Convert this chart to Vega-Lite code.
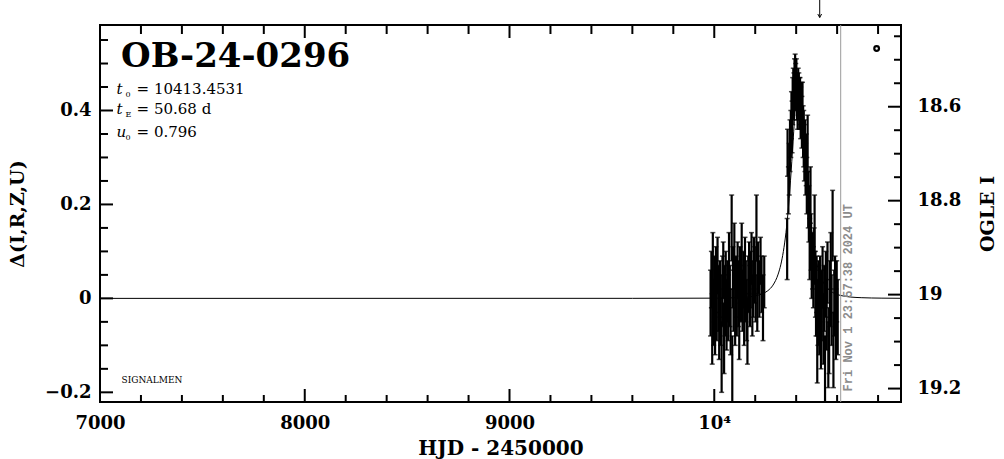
{
  "$schema": "https://vega.github.io/schema/vega-lite/v6.json",
  "width": 801,
  "height": 377,
  "autosize": {"type": "none"},
  "padding": {"left": 100, "top": 25, "right": 103, "bottom": 57},
  "background": "white",
  "config": {
    "view": {"stroke": "black", "strokeWidth": 2},
    "axis": {
      "grid": false,
      "domain": false,
      "ticks": false,
      "zindex": 1,
      "labelFlush": false,
      "labelFont": "DejaVu Serif",
      "labelFontWeight": "bold",
      "labelFontSize": 18,
      "labelColor": "black",
      "titleFont": "DejaVu Serif",
      "titleFontWeight": "bold",
      "titleFontSize": 19,
      "titleColor": "black"
    }
  },
  "datasets": {
    "obs": [
      {"t":9982,"lo":-0.08,"hi":0.06},{"t":9986,"lo":-0.02,"hi":0.10},{"t":9990,"lo":-0.14,"hi":0.01},{"t":9993,"lo":0.00,"hi":0.14},
      {"t":9997,"lo":-0.10,"hi":0.04},{"t":10000,"lo":-0.05,"hi":0.09},{"t":10004,"lo":-0.12,"hi":0.03},{"t":10008,"lo":-0.03,"hi":0.11},
      {"t":10012,"lo":-0.09,"hi":0.06},{"t":10016,"lo":0.01,"hi":0.13},{"t":10020,"lo":-0.07,"hi":0.07},{"t":10024,"lo":-0.13,"hi":0.02},
      {"t":10028,"lo":-0.04,"hi":0.08},{"t":10032,"lo":-0.10,"hi":0.05},{"t":10036,"lo":-0.20,"hi":-0.05},{"t":10040,"lo":-0.06,"hi":0.09},
      {"t":10044,"lo":0.00,"hi":0.12},{"t":10048,"lo":-0.16,"hi":-0.01},{"t":10052,"lo":-0.08,"hi":0.07},{"t":10056,"lo":-0.03,"hi":0.10},
      {"t":10060,"lo":-0.11,"hi":0.04},{"t":10064,"lo":-0.05,"hi":0.08},{"t":10068,"lo":-0.09,"hi":0.05},{"t":10072,"lo":0.02,"hi":0.14},
      {"t":10076,"lo":-0.06,"hi":0.07},{"t":10080,"lo":-0.12,"hi":0.02},{"t":10085,"lo":0.08,"hi":0.22},{"t":10088,"lo":-0.25,"hi":-0.08},
      {"t":10091,"lo":-0.02,"hi":0.11},{"t":10094,"lo":-0.07,"hi":0.06},{"t":10098,"lo":0.02,"hi":0.16},{"t":10102,"lo":-0.10,"hi":0.04},
      {"t":10106,"lo":-0.04,"hi":0.09},{"t":10110,"lo":-0.08,"hi":0.05},{"t":10114,"lo":0.00,"hi":0.12},{"t":10118,"lo":-0.06,"hi":0.08},
      {"t":10122,"lo":-0.13,"hi":0.01},{"t":10126,"lo":-0.01,"hi":0.11},{"t":10130,"lo":-0.05,"hi":0.07},{"t":10134,"lo":0.03,"hi":0.16},
      {"t":10138,"lo":-0.07,"hi":0.06},{"t":10142,"lo":-0.02,"hi":0.10},{"t":10146,"lo":-0.10,"hi":0.03},{"t":10150,"lo":0.00,"hi":0.13},
      {"t":10154,"lo":-0.05,"hi":0.08},{"t":10158,"lo":-0.09,"hi":0.04},{"t":10162,"lo":-0.14,"hi":0.00},{"t":10166,"lo":-0.03,"hi":0.09},
      {"t":10170,"lo":0.01,"hi":0.12},{"t":10174,"lo":-0.06,"hi":0.07},{"t":10178,"lo":-0.02,"hi":0.10},{"t":10182,"lo":0.03,"hi":0.14},
      {"t":10186,"lo":-0.08,"hi":0.05},{"t":10190,"lo":-0.04,"hi":0.08},{"t":10194,"lo":0.02,"hi":0.13},{"t":10198,"lo":-0.01,"hi":0.11},
      {"t":10202,"lo":-0.05,"hi":0.08},{"t":10206,"lo":0.08,"hi":0.22},{"t":10210,"lo":-0.07,"hi":0.05},{"t":10214,"lo":0.01,"hi":0.12},
      {"t":10220,"lo":-0.04,"hi":0.08},{"t":10226,"lo":0.03,"hi":0.13},{"t":10231,"lo":-0.03,"hi":0.09},{"t":10238,"lo":-0.09,"hi":0.05},
      {"t":10244,"lo":-0.02,"hi":0.09},
      {"t":10356,"lo":0.04,"hi":0.17},{"t":10358,"lo":0.26,"hi":0.36},{"t":10362,"lo":0.18,"hi":0.28},{"t":10366,"lo":0.22,"hi":0.33},
      {"t":10370,"lo":0.27,"hi":0.38},{"t":10374,"lo":0.30,"hi":0.40},{"t":10377,"lo":0.34,"hi":0.44},{"t":10380,"lo":0.31,"hi":0.42},
      {"t":10383,"lo":0.37,"hi":0.47},{"t":10386,"lo":0.40,"hi":0.49},{"t":10389,"lo":0.38,"hi":0.48},{"t":10392,"lo":0.42,"hi":0.51},
      {"t":10395,"lo":0.43,"hi":0.52},{"t":10398,"lo":0.40,"hi":0.50},{"t":10401,"lo":0.41,"hi":0.51},{"t":10404,"lo":0.38,"hi":0.48},
      {"t":10407,"lo":0.36,"hi":0.46},{"t":10410,"lo":0.39,"hi":0.49},{"t":10413,"lo":0.38,"hi":0.48},{"t":10416,"lo":0.36,"hi":0.47},
      {"t":10419,"lo":0.37,"hi":0.47},{"t":10422,"lo":0.34,"hi":0.45},{"t":10425,"lo":0.36,"hi":0.46},{"t":10428,"lo":0.32,"hi":0.43},
      {"t":10431,"lo":0.35,"hi":0.46},{"t":10434,"lo":0.30,"hi":0.41},{"t":10437,"lo":0.28,"hi":0.40},{"t":10440,"lo":0.25,"hi":0.37},
      {"t":10443,"lo":0.27,"hi":0.38},{"t":10446,"lo":0.22,"hi":0.33},{"t":10449,"lo":0.24,"hi":0.35},{"t":10452,"lo":0.18,"hi":0.30},
      {"t":10456,"lo":0.27,"hi":0.39},{"t":10459,"lo":0.15,"hi":0.27},{"t":10462,"lo":0.12,"hi":0.24},{"t":10466,"lo":0.04,"hi":0.17},
      {"t":10470,"lo":0.16,"hi":0.28},{"t":10473,"lo":0.06,"hi":0.18},{"t":10476,"lo":0.00,"hi":0.13},{"t":10480,"lo":0.02,"hi":0.14},
      {"t":10484,"lo":-0.02,"hi":0.11},{"t":10488,"lo":0.03,"hi":0.15},{"t":10490,"lo":0.10,"hi":0.22},{"t":10494,"lo":-0.04,"hi":0.10},
      {"t":10497,"lo":-0.08,"hi":0.06},{"t":10500,"lo":-0.03,"hi":0.09},{"t":10503,"lo":-0.18,"hi":-0.08},{"t":10506,"lo":-0.10,"hi":0.04},
      {"t":10509,"lo":-0.06,"hi":0.08},{"t":10513,"lo":-0.12,"hi":0.02},{"t":10517,"lo":-0.05,"hi":0.09},{"t":10521,"lo":-0.15,"hi":-0.02},
      {"t":10525,"lo":-0.09,"hi":0.06},{"t":10529,"lo":-0.02,"hi":0.11},{"t":10533,"lo":-0.14,"hi":0.01},{"t":10537,"lo":-0.07,"hi":0.07},
      {"t":10541,"lo":-0.22,"hi":-0.08},{"t":10545,"lo":-0.04,"hi":0.10},{"t":10549,"lo":-0.11,"hi":0.04},{"t":10553,"lo":-0.01,"hi":0.12},
      {"t":10557,"lo":-0.19,"hi":-0.05},{"t":10561,"lo":-0.16,"hi":-0.02},{"t":10565,"lo":-0.06,"hi":0.08},{"t":10569,"lo":0.02,"hi":0.14},
      {"t":10573,"lo":-0.10,"hi":0.05},{"t":10578,"lo":0.08,"hi":0.23},{"t":10582,"lo":-0.19,"hi":-0.03},{"t":10586,"lo":-0.08,"hi":0.06},
      {"t":10590,"lo":-0.03,"hi":0.09},{"t":10594,"lo":-0.13,"hi":0.02},{"t":10598,"lo":-0.05,"hi":0.08},{"t":10603,"lo":-0.12,"hi":0.04}
    ],
    "model": [
      {"t":7000,"d":0},{"t":9600,"d":0.0001},{"t":10008,"d":0.0005},{"t":10109.4,"d":0.0015},{"t":10160.1,"d":0.0028},
      {"t":10210.7,"d":0.0063},{"t":10236.1,"d":0.0099},{"t":10261.4,"d":0.0163},{"t":10286.8,"d":0.0282},{"t":10312.1,"d":0.0517},
      {"t":10324.8,"d":0.0714},{"t":10337.4,"d":0.0996},{"t":10350.1,"d":0.1399},{"t":10362.8,"d":0.196},{"t":10375.4,"d":0.270},
      {"t":10388.1,"d":0.356},{"t":10400.8,"d":0.434},{"t":10407.1,"d":0.458},{"t":10413.5,"d":0.467},{"t":10419.8,"d":0.458},
      {"t":10426.1,"d":0.434},{"t":10438.8,"d":0.356},{"t":10451.5,"d":0.270},{"t":10464.1,"d":0.196},{"t":10476.8,"d":0.1399},
      {"t":10489.5,"d":0.0996},{"t":10502.1,"d":0.0714},{"t":10514.8,"d":0.0517},{"t":10540.2,"d":0.0282},{"t":10565.5,"d":0.0163},
      {"t":10590.8,"d":0.0099},{"t":10616.2,"d":0.0063},{"t":10666.9,"d":0.0028},{"t":10717.5,"d":0.0015},{"t":10818.9,"d":0.0005},
      {"t":10912,"d":0.0002}
    ],
    "xmaj": [{"v":7000},{"v":8000},{"v":9000},{"v":10000}],
    "xmin": [{"v":7200},{"v":7400},{"v":7600},{"v":7800},{"v":8200},{"v":8400},{"v":8600},{"v":8800},{"v":9200},{"v":9400},{"v":9600},{"v":9800},{"v":10200},{"v":10400},{"v":10600},{"v":10800}],
    "lmaj": [{"v":-0.2},{"v":0},{"v":0.2},{"v":0.4}],
    "lmin": [{"v":-0.15},{"v":-0.1},{"v":-0.05},{"v":0.05},{"v":0.1},{"v":0.15},{"v":0.25},{"v":0.3},{"v":0.35},{"v":0.45},{"v":0.5},{"v":0.55}],
    "rmaj": [{"v":-0.192},{"v":0.008},{"v":0.208},{"v":0.408}],
    "rmin": [{"v":-0.142},{"v":-0.092},{"v":-0.042},{"v":0.058},{"v":0.108},{"v":0.158},{"v":0.258},{"v":0.308},{"v":0.358},{"v":0.458},{"v":0.508},{"v":0.558}],
    "now": [{"t":10617.5,"d":-0.198,"label":"Fri Nov  1 23:57:38 2024 UT"}],
    "title": [{"label":"OB-24-0296","t":7103,"d":0.493}],
    "params": [
      {"sym":"t","sub":"0","rest":"= 10413.4531","t":7081,"d":0.436},
      {"sym":"t","sub":"E","rest":"= 50.68 d","t":7081,"d":0.3915},
      {"sym":"u","sub":"0","rest":"= 0.796","t":7081,"d":0.3426}
    ],
    "sig": [{"label":"SIGNALMEN","t":7105,"d":-0.181}],
    "arrow": [{"t":10515,"top":0.636,"tip":0.598}],
    "legend": [{"t":10793,"d":0.532}]
  },
  "layer": [
    {
      "data": {"name": "obs"},
      "mark": {"type": "rule", "color": "black", "strokeWidth": 2.2, "clip": true},
      "encoding": {
        "x": {"field": "t", "type": "quantitative", "scale": {"domain": [7000, 10912], "nice": false, "zero": false}, "axis": null},
        "y": {"field": "lo", "type": "quantitative", "scale": {"domain": [-0.2206, 0.582], "nice": false, "zero": false}, "axis": null},
        "y2": {"field": "hi"}
      }
    },
    {
      "data": {"name": "obs"},
      "mark": {"type": "tick", "orient": "horizontal", "color": "black", "size": 5, "thickness": 1.5, "clip": true},
      "encoding": {
        "x": {"field": "t", "type": "quantitative", "scale": {"domain": [7000, 10912], "nice": false, "zero": false}, "axis": null},
        "y": {"field": "lo", "type": "quantitative", "scale": {"domain": [-0.2206, 0.582], "nice": false, "zero": false},
              "axis": {"orient": "right", "values": [-0.192,0.008,0.208,0.408], "labelExpr": "format(19.008 - datum.value, '.1~f')", "labelAlign": "left", "labelPadding": 16, "title": "OGLE I", "titleAngle": 270, "titleBaseline": "top", "titlePadding": 18}}
      }
    },
    {
      "data": {"name": "obs"},
      "mark": {"type": "tick", "orient": "horizontal", "color": "black", "size": 5, "thickness": 1.5, "clip": true},
      "encoding": {
        "x": {"field": "t", "type": "quantitative", "scale": {"domain": [7000, 10912], "nice": false, "zero": false}, "axis": null},
        "y": {"field": "hi", "type": "quantitative", "scale": {"domain": [-0.2206, 0.582], "nice": false, "zero": false}, "axis": null}
      }
    },
    {
      "data": {"name": "model"},
      "mark": {"type": "line", "color": "black", "strokeWidth": 1, "interpolate": "monotone", "clip": true},
      "encoding": {
        "x": {"field": "t", "type": "quantitative", "scale": {"domain": [7000, 10912], "nice": false, "zero": false},
              "axis": {"orient": "bottom", "values": [7000,8000,9000,10000], "labelExpr": "datum.value == 10000 ? '10⁴' : format(datum.value, 'd')", "labelPadding": 12, "title": "HJD - 2450000", "titleFontSize": 20, "titlePadding": 6}},
        "y": {"field": "d", "type": "quantitative", "scale": {"domain": [-0.2206, 0.582], "nice": false, "zero": false},
              "axis": {"orient": "left", "values": [-0.2,0,0.2,0.4], "format": ".1~f", "labelPadding": 9, "title": "Δ(I,R,Z,U)", "titlePadding": 17}}
      }
    },
    {
      "data": {"name": "now"},
      "mark": {"type": "rule", "color": "#9a9a9a", "strokeWidth": 1},
      "encoding": {
        "x": {"field": "t", "type": "quantitative", "scale": {"domain": [7000, 10912], "nice": false, "zero": false}, "axis": null}
      }
    },
    {
      "data": {"name": "now"},
      "mark": {"type": "text", "angle": 270, "align": "left", "baseline": "top", "dy": 2, "font": "Liberation Mono", "fontWeight": "bold", "fontSize": 12, "color": "#8c8c8c"},
      "encoding": {
        "x": {"field": "t", "type": "quantitative", "scale": {"domain": [7000, 10912], "nice": false, "zero": false}, "axis": null},
        "y": {"field": "d", "type": "quantitative", "scale": {"domain": [-0.2206, 0.582], "nice": false, "zero": false}, "axis": null},
        "text": {"field": "label"}
      }
    },
    {
      "data": {"name": "title"},
      "mark": {"type": "text", "align": "left", "baseline": "alphabetic", "font": "DejaVu Serif", "fontWeight": "bold", "fontSize": 34, "color": "black"},
      "encoding": {
        "x": {"field": "t", "type": "quantitative", "scale": {"domain": [7000, 10912], "nice": false, "zero": false}, "axis": null},
        "y": {"field": "d", "type": "quantitative", "scale": {"domain": [-0.2206, 0.582], "nice": false, "zero": false}, "axis": null},
        "text": {"field": "label"}
      }
    },
    {
      "data": {"name": "params"},
      "mark": {"type": "text", "align": "left", "baseline": "alphabetic", "font": "DejaVu Serif", "fontStyle": "italic", "fontSize": 15, "color": "black"},
      "encoding": {
        "x": {"field": "t", "type": "quantitative", "scale": {"domain": [7000, 10912], "nice": false, "zero": false}, "axis": null},
        "y": {"field": "d", "type": "quantitative", "scale": {"domain": [-0.2206, 0.582], "nice": false, "zero": false}, "axis": null},
        "text": {"field": "sym"}
      }
    },
    {
      "data": {"name": "params"},
      "mark": {"type": "text", "align": "left", "baseline": "alphabetic", "dx": 9, "dy": 3, "font": "DejaVu Serif", "fontSize": 8, "color": "black"},
      "encoding": {
        "x": {"field": "t", "type": "quantitative", "scale": {"domain": [7000, 10912], "nice": false, "zero": false}, "axis": null},
        "y": {"field": "d", "type": "quantitative", "scale": {"domain": [-0.2206, 0.582], "nice": false, "zero": false}, "axis": null},
        "text": {"field": "sub"}
      }
    },
    {
      "data": {"name": "params"},
      "mark": {"type": "text", "align": "left", "baseline": "alphabetic", "dx": 20, "font": "DejaVu Serif", "fontSize": 15, "color": "black"},
      "encoding": {
        "x": {"field": "t", "type": "quantitative", "scale": {"domain": [7000, 10912], "nice": false, "zero": false}, "axis": null},
        "y": {"field": "d", "type": "quantitative", "scale": {"domain": [-0.2206, 0.582], "nice": false, "zero": false}, "axis": null},
        "text": {"field": "rest"}
      }
    },
    {
      "data": {"name": "sig"},
      "mark": {"type": "text", "align": "left", "baseline": "alphabetic", "font": "DejaVu Serif", "fontSize": 9, "color": "black"},
      "encoding": {
        "x": {"field": "t", "type": "quantitative", "scale": {"domain": [7000, 10912], "nice": false, "zero": false}, "axis": null},
        "y": {"field": "d", "type": "quantitative", "scale": {"domain": [-0.2206, 0.582], "nice": false, "zero": false}, "axis": null},
        "text": {"field": "label"}
      }
    },
    {
      "data": {"name": "arrow"},
      "mark": {"type": "rule", "color": "black", "strokeWidth": 1, "clip": false},
      "encoding": {
        "x": {"field": "t", "type": "quantitative", "scale": {"domain": [7000, 10912], "nice": false, "zero": false}, "axis": null},
        "y": {"field": "top", "type": "quantitative", "scale": {"domain": [-0.2206, 0.582], "nice": false, "zero": false}, "axis": null},
        "y2": {"field": "tip"}
      }
    },
    {
      "data": {"name": "arrow"},
      "mark": {"type": "point", "shape": "M-1.1,-2L0,0L1.1,-2", "size": 12, "filled": false, "stroke": "black", "strokeWidth": 1, "opacity": 1, "clip": false},
      "encoding": {
        "x": {"field": "t", "type": "quantitative", "scale": {"domain": [7000, 10912], "nice": false, "zero": false}, "axis": null},
        "y": {"field": "tip", "type": "quantitative", "scale": {"domain": [-0.2206, 0.582], "nice": false, "zero": false}, "axis": null}
      }
    },
    {
      "data": {"name": "legend"},
      "mark": {"type": "point", "shape": "circle", "size": 22, "filled": false, "stroke": "black", "strokeWidth": 2.2, "opacity": 1},
      "encoding": {
        "x": {"field": "t", "type": "quantitative", "scale": {"domain": [7000, 10912], "nice": false, "zero": false}, "axis": null},
        "y": {"field": "d", "type": "quantitative", "scale": {"domain": [-0.2206, 0.582], "nice": false, "zero": false}, "axis": null}
      }
    },
    {
      "data": {"name": "xmaj"},
      "mark": {"type": "tick", "orient": "vertical", "color": "black", "size": 13, "thickness": 2, "yOffset": -6.5, "opacity": 1},
      "encoding": {
        "x": {"field": "v", "type": "quantitative", "scale": {"domain": [7000, 10912], "nice": false, "zero": false}, "axis": null},
        "y": {"datum": -0.2206, "type": "quantitative", "scale": {"domain": [-0.2206, 0.582], "nice": false, "zero": false}, "axis": null}
      }
    },
    {
      "data": {"name": "xmaj"},
      "mark": {"type": "tick", "orient": "vertical", "color": "black", "size": 13, "thickness": 2, "yOffset": 6.5, "opacity": 1},
      "encoding": {
        "x": {"field": "v", "type": "quantitative", "scale": {"domain": [7000, 10912], "nice": false, "zero": false}, "axis": null},
        "y": {"datum": 0.582, "type": "quantitative", "scale": {"domain": [-0.2206, 0.582], "nice": false, "zero": false}, "axis": null}
      }
    },
    {
      "data": {"name": "xmin"},
      "mark": {"type": "tick", "orient": "vertical", "color": "black", "size": 7, "thickness": 2, "yOffset": -3.5, "opacity": 1},
      "encoding": {
        "x": {"field": "v", "type": "quantitative", "scale": {"domain": [7000, 10912], "nice": false, "zero": false}, "axis": null},
        "y": {"datum": -0.2206, "type": "quantitative", "scale": {"domain": [-0.2206, 0.582], "nice": false, "zero": false}, "axis": null}
      }
    },
    {
      "data": {"name": "xmin"},
      "mark": {"type": "tick", "orient": "vertical", "color": "black", "size": 9, "thickness": 2, "yOffset": 4.5, "opacity": 1},
      "encoding": {
        "x": {"field": "v", "type": "quantitative", "scale": {"domain": [7000, 10912], "nice": false, "zero": false}, "axis": null},
        "y": {"datum": 0.582, "type": "quantitative", "scale": {"domain": [-0.2206, 0.582], "nice": false, "zero": false}, "axis": null}
      }
    },
    {
      "data": {"name": "lmaj"},
      "mark": {"type": "tick", "orient": "horizontal", "color": "black", "size": 13, "thickness": 2, "xOffset": 6.5, "opacity": 1},
      "encoding": {
        "x": {"datum": 7000, "type": "quantitative", "scale": {"domain": [7000, 10912], "nice": false, "zero": false}, "axis": null},
        "y": {"field": "v", "type": "quantitative", "scale": {"domain": [-0.2206, 0.582], "nice": false, "zero": false}, "axis": null}
      }
    },
    {
      "data": {"name": "lmin"},
      "mark": {"type": "tick", "orient": "horizontal", "color": "black", "size": 8, "thickness": 2, "xOffset": 4, "opacity": 1},
      "encoding": {
        "x": {"datum": 7000, "type": "quantitative", "scale": {"domain": [7000, 10912], "nice": false, "zero": false}, "axis": null},
        "y": {"field": "v", "type": "quantitative", "scale": {"domain": [-0.2206, 0.582], "nice": false, "zero": false}, "axis": null}
      }
    },
    {
      "data": {"name": "rmaj"},
      "mark": {"type": "tick", "orient": "horizontal", "color": "black", "size": 13, "thickness": 2, "xOffset": -6.5, "opacity": 1},
      "encoding": {
        "x": {"datum": 10912, "type": "quantitative", "scale": {"domain": [7000, 10912], "nice": false, "zero": false}, "axis": null},
        "y": {"field": "v", "type": "quantitative", "scale": {"domain": [-0.2206, 0.582], "nice": false, "zero": false}, "axis": null}
      }
    },
    {
      "data": {"name": "rmin"},
      "mark": {"type": "tick", "orient": "horizontal", "color": "black", "size": 7, "thickness": 2, "xOffset": -3.5, "opacity": 1},
      "encoding": {
        "x": {"datum": 10912, "type": "quantitative", "scale": {"domain": [7000, 10912], "nice": false, "zero": false}, "axis": null},
        "y": {"field": "v", "type": "quantitative", "scale": {"domain": [-0.2206, 0.582], "nice": false, "zero": false}, "axis": null}
      }
    }
  ],
  "resolve": {"axis": {"x": "independent", "y": "independent"}}
}
